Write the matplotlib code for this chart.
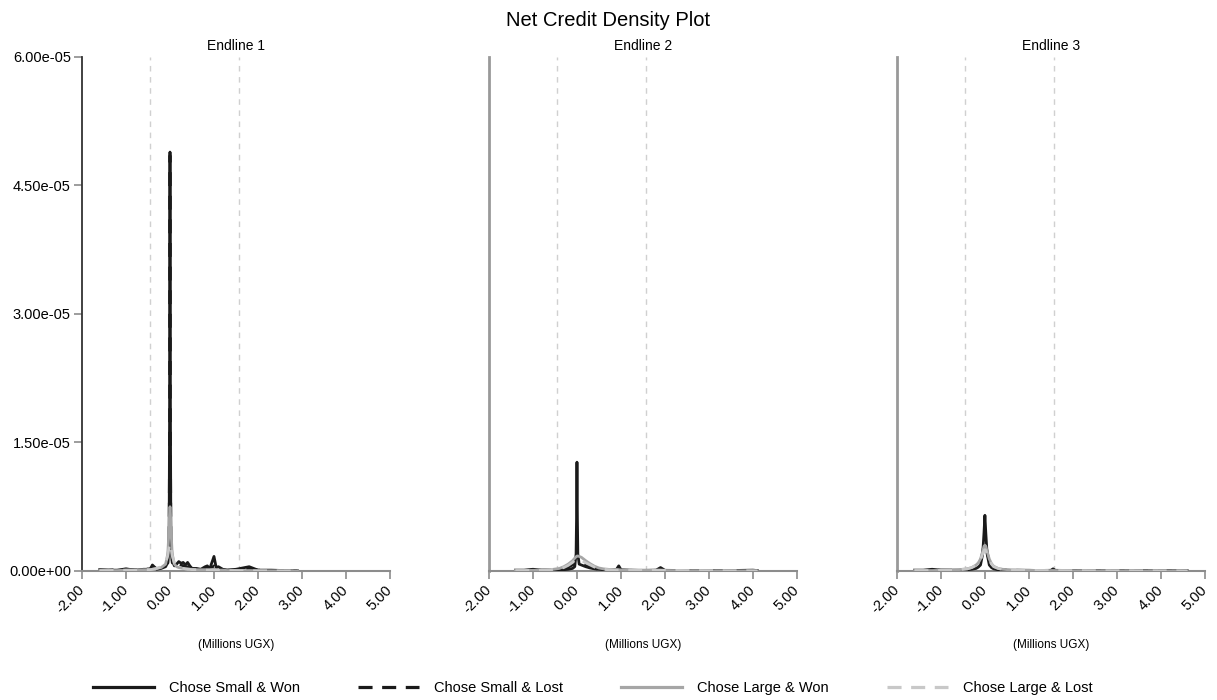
import matplotlib
matplotlib.use("Agg")
import matplotlib.pyplot as plt
from matplotlib.ticker import FuncFormatter

plt.rcParams["font.family"] = ["Liberation Sans", "DejaVu Sans"]

# density values are given in units of 1e-6
DENSITY_UNIT = 1e-6

PANEL_TITLES = ["Endline 1", "Endline 2", "Endline 3"]
SERIES_NAMES = ["Chose Small & Won", "Chose Small & Lost",
                "Chose Large & Won", "Chose Large & Lost"]
CUTOFFS = [-0.45, 1.57]
X_TICKS = [-2, -1, 0, 1, 2, 3, 4, 5]
Y_TICKS = [0, 1.5e-05, 3.0e-05, 4.5e-05, 6.0e-05]

# Endline 1
E1_X = [-1.60, -1.40, -1.20, -1.00, -0.80, -0.60, -0.45, -0.40, -0.30, -0.20,
        -0.10, -0.05, -0.02, -0.01, 0.00, 0.01, 0.02, 0.05, 0.10, 0.15,
        0.20, 0.25, 0.30, 0.35, 0.40, 0.45, 0.50, 0.60, 0.70, 0.80,
        0.85, 0.90, 1.00, 1.05, 1.10, 1.20, 1.30, 1.50, 1.80, 2.00,
        2.30, 2.60, 2.90]
E1_SMALL_WON = [0.15, 0.10, 0.10, 0.25, 0.10, 0.20, 0.20, 0.70, 0.20, 0.30,
                0.50, 1.00, 4.00, 18.0, 48.9, 18.0, 4.00, 1.20, 0.60, 0.80,
                1.10, 0.90, 1.00, 0.70, 1.00, 0.60, 0.30, 0.30, 0.20, 0.50,
                0.60, 0.20, 1.70, 0.40, 0.50, 0.20, 0.10, 0.20, 0.50, 0.10,
                0.10, 0.05, 0.02]
E1_SMALL_LOST = [0.10, 0.10, 0.15, 0.20, 0.15, 0.20, 0.25, 0.40, 0.30, 0.30,
                 0.40, 0.90, 3.50, 17.0, 48.5, 17.0, 3.50, 1.00, 0.50, 0.60,
                 0.80, 0.70, 0.60, 0.50, 0.50, 0.40, 0.30, 0.20, 0.20, 0.30,
                 0.40, 0.20, 0.60, 0.30, 0.20, 0.10, 0.10, 0.10, 0.30, 0.10,
                 0.05, 0.05, 0.02]
E1_LARGE_WON = [0.05, 0.05, 0.05, 0.10, 0.10, 0.15, 0.15, 0.20, 0.30, 0.40,
                0.80, 2.00, 5.00, 6.80, 7.50, 6.80, 5.00, 2.00, 0.80, 0.50,
                0.40, 0.35, 0.30, 0.25, 0.25, 0.20, 0.20, 0.15, 0.15, 0.15,
                0.15, 0.15, 0.20, 0.15, 0.10, 0.10, 0.05, 0.05, 0.05, 0.03,
                0.02, 0.02, 0.01]
E1_LARGE_LOST = [0.05, 0.05, 0.08, 0.10, 0.10, 0.15, 0.15, 0.20, 0.30, 0.50,
                 0.90, 1.80, 2.80, 3.10, 3.20, 3.10, 2.80, 1.80, 0.90, 0.60,
                 0.40, 0.35, 0.30, 0.25, 0.20, 0.20, 0.15, 0.15, 0.10, 0.10,
                 0.10, 0.10, 0.10, 0.10, 0.08, 0.05, 0.05, 0.05, 0.03, 0.02,
                 0.02, 0.01, 0.01]

# Endline 2
E2_X = [-1.40, -1.20, -1.00, -0.80, -0.60, -0.40, -0.30, -0.20, -0.10, -0.05,
        -0.02, -0.01, 0.00, 0.01, 0.02, 0.05, 0.10, 0.15, 0.20, 0.30,
        0.40, 0.50, 0.60, 0.70, 0.80, 0.90, 0.95, 1.00, 1.20, 1.40,
        1.60, 1.80, 1.90, 2.00, 2.50, 3.00, 3.50, 4.00, 4.10]
E2_SMALL_WON = [0.10, 0.10, 0.20, 0.10, 0.10, 0.10, 0.15, 0.20, 0.30, 0.50,
                2.00, 6.00, 12.7, 6.00, 2.00, 0.80, 0.70, 0.60, 0.50, 0.35,
                0.25, 0.20, 0.15, 0.10, 0.10, 0.20, 0.60, 0.15, 0.10, 0.08,
                0.08, 0.10, 0.40, 0.08, 0.05, 0.05, 0.05, 0.10, 0.05]
E2_SMALL_LOST = [0.05, 0.05, 0.10, 0.10, 0.15, 0.20, 0.30, 0.45, 0.70, 0.85,
                 0.95, 1.00, 1.00, 1.00, 1.00, 0.95, 0.85, 0.75, 0.65, 0.45,
                 0.30, 0.20, 0.15, 0.10, 0.10, 0.15, 0.20, 0.10, 0.08, 0.05,
                 0.05, 0.08, 0.15, 0.05, 0.03, 0.03, 0.03, 0.03, 0.02]
E2_LARGE_WON = [0.05, 0.05, 0.08, 0.10, 0.15, 0.30, 0.50, 0.80, 1.20, 1.50,
                1.65, 1.70, 1.75, 1.75, 1.75, 1.70, 1.60, 1.40, 1.20, 0.85,
                0.55, 0.35, 0.25, 0.20, 0.15, 0.15, 0.15, 0.12, 0.10, 0.08,
                0.08, 0.08, 0.08, 0.06, 0.04, 0.03, 0.02, 0.02, 0.01]
E2_LARGE_LOST = [0.05, 0.05, 0.08, 0.10, 0.15, 0.25, 0.40, 0.65, 1.00, 1.25,
                 1.35, 1.40, 1.40, 1.40, 1.40, 1.35, 1.25, 1.10, 0.95, 0.70,
                 0.45, 0.30, 0.20, 0.15, 0.12, 0.12, 0.12, 0.10, 0.08, 0.08,
                 0.10, 0.10, 0.10, 0.08, 0.05, 0.04, 0.03, 0.02, 0.01]

# Endline 3
E3_X = [-1.60, -1.40, -1.20, -1.00, -0.80, -0.60, -0.40, -0.30, -0.20, -0.15,
        -0.10, -0.05, -0.02, 0.00, 0.02, 0.05, 0.10, 0.15, 0.20, 0.30,
        0.40, 0.60, 0.80, 1.00, 1.20, 1.50, 1.55, 1.60, 2.00, 2.50,
        3.00, 3.50, 4.00, 4.50, 4.60]
E3_SMALL_WON = [0.10, 0.10, 0.20, 0.10, 0.10, 0.10, 0.15, 0.20, 0.30, 0.45,
                0.70, 2.00, 4.50, 6.50, 4.50, 2.00, 0.70, 0.40, 0.25, 0.15,
                0.10, 0.08, 0.08, 0.08, 0.06, 0.08, 0.25, 0.08, 0.05, 0.05,
                0.04, 0.04, 0.04, 0.05, 0.03]
E3_SMALL_LOST = [0.05, 0.05, 0.08, 0.10, 0.10, 0.15, 0.20, 0.30, 0.50, 0.70,
                 1.10, 2.20, 3.20, 3.50, 3.20, 2.20, 1.10, 0.60, 0.35, 0.20,
                 0.15, 0.10, 0.08, 0.06, 0.05, 0.05, 0.10, 0.05, 0.04, 0.03,
                 0.03, 0.03, 0.02, 0.02, 0.01]
E3_LARGE_WON = [0.05, 0.05, 0.05, 0.08, 0.10, 0.15, 0.25, 0.40, 0.70, 0.95,
                1.40, 2.30, 2.90, 3.00, 2.90, 2.30, 1.40, 0.85, 0.55, 0.30,
                0.20, 0.12, 0.10, 0.08, 0.06, 0.05, 0.06, 0.05, 0.04, 0.03,
                0.03, 0.02, 0.02, 0.02, 0.01]
E3_LARGE_LOST = [0.05, 0.05, 0.05, 0.08, 0.10, 0.15, 0.25, 0.40, 0.65, 0.90,
                 1.30, 2.00, 2.40, 2.50, 2.40, 2.00, 1.30, 0.80, 0.50, 0.30,
                 0.20, 0.12, 0.10, 0.08, 0.06, 0.05, 0.06, 0.05, 0.04, 0.03,
                 0.03, 0.02, 0.02, 0.02, 0.01]

panels = [
    (E1_X, [E1_SMALL_WON, E1_SMALL_LOST, E1_LARGE_WON, E1_LARGE_LOST]),
    (E2_X, [E2_SMALL_WON, E2_SMALL_LOST, E2_LARGE_WON, E2_LARGE_LOST]),
    (E3_X, [E3_SMALL_WON, E3_SMALL_LOST, E3_LARGE_WON, E3_LARGE_LOST]),
]

styles = [
    dict(color="#1a1a1a", linestyle="-"),
    dict(color="#1a1a1a", linestyle=(0, (5, 3.5))),
    dict(color="#a6a6a6", linestyle="-"),
    dict(color="#c8c8c8", linestyle=(0, (5, 3.5))),
]

fig = plt.figure(figsize=(12.17, 7.0), dpi=100)
fig.suptitle("Net Credit Density Plot", y=0.985, fontsize=14.5)

lefts = [0.0674, 0.4018, 0.737]
axes = []
for idx, (xs, series) in enumerate(panels):
    ax = fig.add_axes([lefts[idx], 0.1843, 0.253, 0.7343])
    axes.append(ax)

    for cut in CUTOFFS:
        ax.axvline(cut, color="#d0d0d0", linestyle=(0, (4, 4)), lw=1.0, zorder=1)

    for name, ys, st in zip(SERIES_NAMES, series, styles):
        ax.plot(xs, [v * DENSITY_UNIT for v in ys], lw=2.0, label=name,
                zorder=3, **st)

    ax.set_xlim(-2, 5)
    ax.set_ylim(0, 6e-05)
    ax.set_xticks(X_TICKS)
    ax.set_xticklabels([f"{t:.2f}" for t in X_TICKS], rotation=45,
                       ha="right", va="center", rotation_mode="anchor",
                       fontsize=10.5)
    ax.set_title(PANEL_TITLES[idx], fontsize=10, pad=5)
    ax.set_xlabel("(Millions UGX)", fontsize=8.5, labelpad=16)

    for side in ["top", "right"]:
        ax.spines[side].set_visible(False)
    ax.spines["bottom"].set_color("#8c8c8c")
    ax.spines["bottom"].set_linewidth(1.5)
    ax.tick_params(axis="x", colors="#8c8c8c", length=6, width=1.2,
                   labelcolor="black", pad=6)

    if idx == 0:
        ax.spines["left"].set_color("#333333")
        ax.spines["left"].set_linewidth(1.3)
        ax.set_yticks(Y_TICKS)
        ax.yaxis.set_major_formatter(FuncFormatter(lambda v, p: f"{v:.2e}"))
        ax.tick_params(axis="y", colors="#8c8c8c", length=6, width=1.2,
                       labelcolor="black", labelsize=10.5, pad=2)
    else:
        ax.spines["left"].set_color("#999999")
        ax.spines["left"].set_linewidth(2.0)
        ax.set_yticks([])

handles, labels = axes[0].get_legend_handles_labels()
leg = fig.legend(handles, labels, loc="center", bbox_to_anchor=(0.487, 0.017),
                 ncol=4, frameon=False, fontsize=10.5, handlelength=4.2,
                 handletextpad=1.0, columnspacing=4.0)
for line, st in zip(leg.get_lines(), styles):
    line.set_linewidth(2.3)
    if st["linestyle"] != "-":
        line.set_dashes([4.4, 3.0])

fig.savefig("out.png", dpi=100)
